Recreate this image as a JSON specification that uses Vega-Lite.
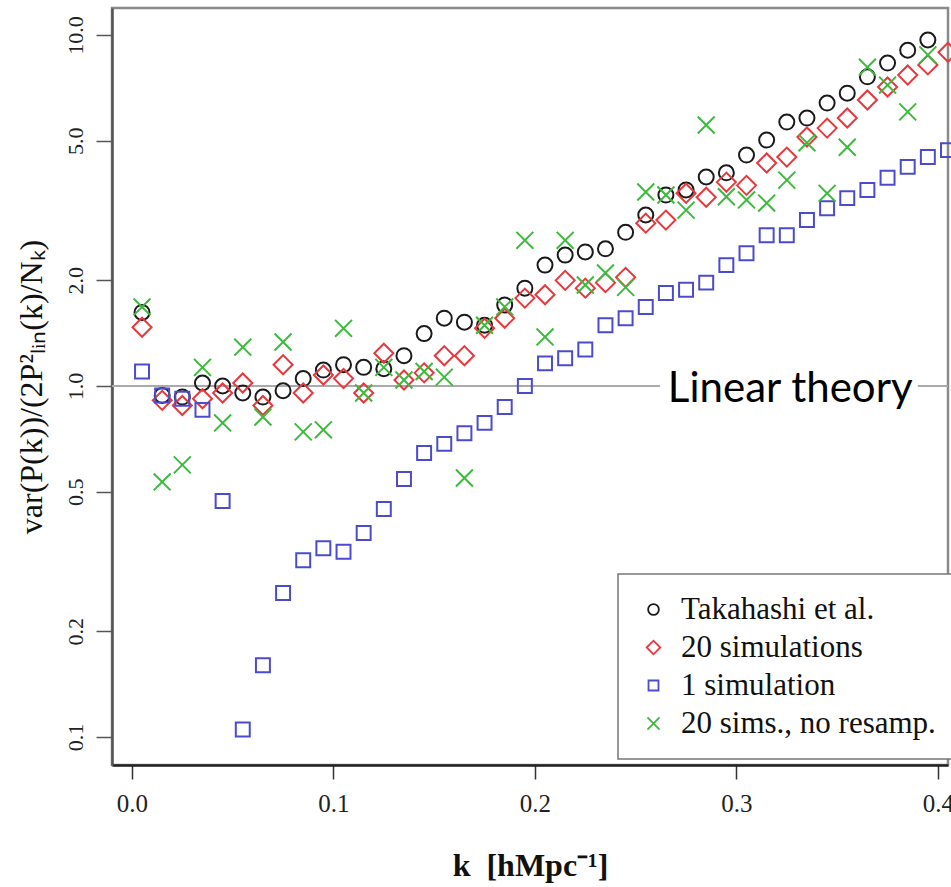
{
  "$schema": "https://vega.github.io/schema/vega-lite/v6.json",
  "width": 836,
  "height": 757,
  "autosize": {"type": "none"},
  "padding": {"left": 112, "top": 8, "right": 3, "bottom": 122},
  "background": "white",
  "config": {
    "font": "Liberation Serif",
    "view": {"stroke": "#8a8a8a", "strokeWidth": 2.5},
    "legend": {"strokeWidth": 1.5}
  },
  "encoding": {
    "x": {
      "field": "k", "type": "quantitative",
      "scale": {"domain": [-0.0099, 0.405], "nice": false, "zero": false},
      "axis": {
        "title": "k\u00a0\u00a0[hMpc⁻¹]", "values": [0, 0.1, 0.2, 0.3, 0.4], "format": ".1f",
        "labelFontSize": 25, "labelPadding": 12, "labelColor": "#222", "labelFlush": false,
        "tickSize": 14, "tickWidth": 1.5, "tickColor": "#333",
        "domainColor": "#222", "domainWidth": 2.5, "grid": false,
        "titleFontSize": 32, "titleFontWeight": "bold", "titleColor": "#111", "titlePadding": 34
      }
    },
    "y": {
      "field": "v", "type": "quantitative",
      "scale": {"type": "log", "domain": [0.0832, 11.94], "nice": false},
      "axis": {
        "title": "var(P(k))/(2P²ₗᵢₙ(k)/Nₖ)", "values": [0.1, 0.2, 0.5, 1, 2, 5, 10], "format": ".1f",
        "labelAngle": -90, "labelAlign": "center", "labelBaseline": "alphabetic",
        "labelFontSize": 22, "labelPadding": 14, "labelColor": "#222",
        "tickSize": 16, "tickWidth": 1.5, "tickColor": "#555",
        "domainColor": "#555", "domainWidth": 2.5, "grid": false,
        "titleFontSize": 32, "titleFontWeight": "normal", "titleColor": "#111", "titlePadding": 16
      }
    }
  },
  "layer": [
    {
      "data": {"values": [{"k": -0.0099, "k2": 0.262, "v": 1}, {"k": 0.39, "k2": 0.405, "v": 1}]},
      "mark": {"type": "rule", "color": "#aaaaaa", "strokeWidth": 2},
      "encoding": {"x2": {"field": "k2"}}
    },
    {
      "data": {"values": [{"k": 0.05}]},
      "mark": {"type": "rule", "color": "#333333", "strokeWidth": 4, "strokeDash": [11, 6]},
      "encoding": {"y": {"datum": 0.0832}, "y2": {"datum": 11.0}}
    },
    {
      "data": {"values": [
        {"k":0.005,"v":1.62,"s":"Takahashi et al."},{"k":0.015,"v":0.94,"s":"Takahashi et al."},{"k":0.025,"v":0.93,"s":"Takahashi et al."},{"k":0.035,"v":1.02,"s":"Takahashi et al."},{"k":0.045,"v":1.0,"s":"Takahashi et al."},{"k":0.055,"v":0.955,"s":"Takahashi et al."},{"k":0.065,"v":0.93,"s":"Takahashi et al."},{"k":0.075,"v":0.97,"s":"Takahashi et al."},{"k":0.085,"v":1.05,"s":"Takahashi et al."},{"k":0.095,"v":1.11,"s":"Takahashi et al."},
        {"k":0.105,"v":1.15,"s":"Takahashi et al."},{"k":0.115,"v":1.13,"s":"Takahashi et al."},{"k":0.125,"v":1.12,"s":"Takahashi et al."},{"k":0.135,"v":1.22,"s":"Takahashi et al."},{"k":0.145,"v":1.41,"s":"Takahashi et al."},{"k":0.155,"v":1.56,"s":"Takahashi et al."},{"k":0.165,"v":1.52,"s":"Takahashi et al."},{"k":0.175,"v":1.49,"s":"Takahashi et al."},{"k":0.185,"v":1.7,"s":"Takahashi et al."},{"k":0.195,"v":1.9,"s":"Takahashi et al."},
        {"k":0.205,"v":2.21,"s":"Takahashi et al."},{"k":0.215,"v":2.36,"s":"Takahashi et al."},{"k":0.225,"v":2.41,"s":"Takahashi et al."},{"k":0.235,"v":2.46,"s":"Takahashi et al."},{"k":0.245,"v":2.74,"s":"Takahashi et al."},{"k":0.255,"v":3.07,"s":"Takahashi et al."},{"k":0.265,"v":3.5,"s":"Takahashi et al."},{"k":0.275,"v":3.62,"s":"Takahashi et al."},{"k":0.285,"v":3.94,"s":"Takahashi et al."},{"k":0.295,"v":4.05,"s":"Takahashi et al."},
        {"k":0.305,"v":4.55,"s":"Takahashi et al."},{"k":0.315,"v":5.02,"s":"Takahashi et al."},{"k":0.325,"v":5.65,"s":"Takahashi et al."},{"k":0.335,"v":5.8,"s":"Takahashi et al."},{"k":0.345,"v":6.4,"s":"Takahashi et al."},{"k":0.355,"v":6.83,"s":"Takahashi et al."},{"k":0.365,"v":7.6,"s":"Takahashi et al."},{"k":0.375,"v":8.32,"s":"Takahashi et al."},{"k":0.385,"v":9.05,"s":"Takahashi et al."},{"k":0.395,"v":9.68,"s":"Takahashi et al."},
        {"k":0.005,"v":1.47,"s":"20 simulations"},{"k":0.015,"v":0.91,"s":"20 simulations"},{"k":0.025,"v":0.88,"s":"20 simulations"},{"k":0.035,"v":0.92,"s":"20 simulations"},{"k":0.045,"v":0.955,"s":"20 simulations"},{"k":0.055,"v":1.02,"s":"20 simulations"},{"k":0.065,"v":0.88,"s":"20 simulations"},{"k":0.075,"v":1.15,"s":"20 simulations"},{"k":0.085,"v":0.955,"s":"20 simulations"},{"k":0.095,"v":1.075,"s":"20 simulations"},
        {"k":0.105,"v":1.05,"s":"20 simulations"},{"k":0.115,"v":0.955,"s":"20 simulations"},{"k":0.125,"v":1.24,"s":"20 simulations"},{"k":0.135,"v":1.04,"s":"20 simulations"},{"k":0.145,"v":1.09,"s":"20 simulations"},{"k":0.155,"v":1.22,"s":"20 simulations"},{"k":0.165,"v":1.22,"s":"20 simulations"},{"k":0.175,"v":1.46,"s":"20 simulations"},{"k":0.185,"v":1.56,"s":"20 simulations"},{"k":0.195,"v":1.78,"s":"20 simulations"},
        {"k":0.205,"v":1.82,"s":"20 simulations"},{"k":0.215,"v":2.0,"s":"20 simulations"},{"k":0.225,"v":1.9,"s":"20 simulations"},{"k":0.235,"v":1.97,"s":"20 simulations"},{"k":0.245,"v":2.04,"s":"20 simulations"},{"k":0.255,"v":2.91,"s":"20 simulations"},{"k":0.265,"v":2.97,"s":"20 simulations"},{"k":0.275,"v":3.54,"s":"20 simulations"},{"k":0.285,"v":3.45,"s":"20 simulations"},{"k":0.295,"v":3.81,"s":"20 simulations"},
        {"k":0.305,"v":3.73,"s":"20 simulations"},{"k":0.315,"v":4.32,"s":"20 simulations"},{"k":0.325,"v":4.49,"s":"20 simulations"},{"k":0.335,"v":5.12,"s":"20 simulations"},{"k":0.345,"v":5.43,"s":"20 simulations"},{"k":0.355,"v":5.8,"s":"20 simulations"},{"k":0.365,"v":6.53,"s":"20 simulations"},{"k":0.375,"v":7.11,"s":"20 simulations"},{"k":0.385,"v":7.69,"s":"20 simulations"},{"k":0.395,"v":8.22,"s":"20 simulations"},{"k":0.405,"v":8.93,"s":"20 simulations"},
        {"k":0.005,"v":1.1,"s":"1 simulation"},{"k":0.015,"v":0.94,"s":"1 simulation"},{"k":0.025,"v":0.92,"s":"1 simulation"},{"k":0.035,"v":0.855,"s":"1 simulation"},{"k":0.045,"v":0.47,"s":"1 simulation"},{"k":0.055,"v":0.105,"s":"1 simulation"},{"k":0.065,"v":0.16,"s":"1 simulation"},{"k":0.075,"v":0.257,"s":"1 simulation"},{"k":0.085,"v":0.319,"s":"1 simulation"},{"k":0.095,"v":0.345,"s":"1 simulation"},
        {"k":0.105,"v":0.337,"s":"1 simulation"},{"k":0.115,"v":0.381,"s":"1 simulation"},{"k":0.125,"v":0.446,"s":"1 simulation"},{"k":0.135,"v":0.543,"s":"1 simulation"},{"k":0.145,"v":0.644,"s":"1 simulation"},{"k":0.155,"v":0.684,"s":"1 simulation"},{"k":0.165,"v":0.733,"s":"1 simulation"},{"k":0.175,"v":0.785,"s":"1 simulation"},{"k":0.185,"v":0.871,"s":"1 simulation"},{"k":0.195,"v":1.0,"s":"1 simulation"},
        {"k":0.205,"v":1.16,"s":"1 simulation"},{"k":0.215,"v":1.2,"s":"1 simulation"},{"k":0.225,"v":1.27,"s":"1 simulation"},{"k":0.235,"v":1.49,"s":"1 simulation"},{"k":0.245,"v":1.56,"s":"1 simulation"},{"k":0.255,"v":1.68,"s":"1 simulation"},{"k":0.265,"v":1.84,"s":"1 simulation"},{"k":0.275,"v":1.88,"s":"1 simulation"},{"k":0.285,"v":1.97,"s":"1 simulation"},{"k":0.295,"v":2.21,"s":"1 simulation"},
        {"k":0.305,"v":2.39,"s":"1 simulation"},{"k":0.315,"v":2.69,"s":"1 simulation"},{"k":0.325,"v":2.69,"s":"1 simulation"},{"k":0.335,"v":2.97,"s":"1 simulation"},{"k":0.345,"v":3.21,"s":"1 simulation"},{"k":0.355,"v":3.43,"s":"1 simulation"},{"k":0.365,"v":3.62,"s":"1 simulation"},{"k":0.375,"v":3.92,"s":"1 simulation"},{"k":0.385,"v":4.21,"s":"1 simulation"},{"k":0.395,"v":4.49,"s":"1 simulation"},{"k":0.405,"v":4.7,"s":"1 simulation"},
        {"k":0.005,"v":1.68,"s":"20 sims., no resamp."},{"k":0.015,"v":0.533,"s":"20 sims., no resamp."},{"k":0.025,"v":0.596,"s":"20 sims., no resamp."},{"k":0.035,"v":1.13,"s":"20 sims., no resamp."},{"k":0.045,"v":0.785,"s":"20 sims., no resamp."},{"k":0.055,"v":1.29,"s":"20 sims., no resamp."},{"k":0.065,"v":0.816,"s":"20 sims., no resamp."},{"k":0.075,"v":1.335,"s":"20 sims., no resamp."},{"k":0.085,"v":0.74,"s":"20 sims., no resamp."},{"k":0.095,"v":0.75,"s":"20 sims., no resamp."},
        {"k":0.105,"v":1.46,"s":"20 sims., no resamp."},{"k":0.115,"v":0.955,"s":"20 sims., no resamp."},{"k":0.125,"v":1.13,"s":"20 sims., no resamp."},{"k":0.135,"v":1.04,"s":"20 sims., no resamp."},{"k":0.145,"v":1.1,"s":"20 sims., no resamp."},{"k":0.155,"v":1.06,"s":"20 sims., no resamp."},{"k":0.165,"v":0.547,"s":"20 sims., no resamp."},{"k":0.175,"v":1.49,"s":"20 sims., no resamp."},{"k":0.185,"v":1.68,"s":"20 sims., no resamp."},{"k":0.195,"v":2.6,"s":"20 sims., no resamp."},
        {"k":0.205,"v":1.38,"s":"20 sims., no resamp."},{"k":0.215,"v":2.6,"s":"20 sims., no resamp."},{"k":0.225,"v":1.94,"s":"20 sims., no resamp."},{"k":0.235,"v":2.1,"s":"20 sims., no resamp."},{"k":0.245,"v":1.91,"s":"20 sims., no resamp."},{"k":0.255,"v":3.57,"s":"20 sims., no resamp."},{"k":0.265,"v":3.5,"s":"20 sims., no resamp."},{"k":0.275,"v":3.17,"s":"20 sims., no resamp."},{"k":0.285,"v":5.54,"s":"20 sims., no resamp."},{"k":0.295,"v":3.46,"s":"20 sims., no resamp."},
        {"k":0.305,"v":3.39,"s":"20 sims., no resamp."},{"k":0.315,"v":3.32,"s":"20 sims., no resamp."},{"k":0.325,"v":3.86,"s":"20 sims., no resamp."},{"k":0.335,"v":4.93,"s":"20 sims., no resamp."},{"k":0.345,"v":3.54,"s":"20 sims., no resamp."},{"k":0.355,"v":4.79,"s":"20 sims., no resamp."},{"k":0.365,"v":8.1,"s":"20 sims., no resamp."},{"k":0.375,"v":7.2,"s":"20 sims., no resamp."},{"k":0.385,"v":6.04,"s":"20 sims., no resamp."},{"k":0.395,"v":8.78,"s":"20 sims., no resamp."}
      ]},
      "mark": {"type": "point", "filled": false, "strokeWidth": 2, "opacity": 1, "size": 225},
      "encoding": {
        "color": {
          "field": "s", "type": "nominal",
          "scale": {"domain": ["Takahashi et al.", "20 simulations", "1 simulation", "20 sims., no resamp."], "range": ["#1a1a1a", "#e8383d", "#4b4bd0", "#3cba3c"]},
          "legend": {
            "orient": "none", "legendX": 506, "legendY": 566, "title": null,
            "labelFontSize": 31, "labelFont": "Liberation Serif", "labelColor": "#111", "labelLimit": 600,
            "symbolSize": 115, "symbolStrokeWidth": 1.8,
            "padding": 20, "rowPadding": 6, "labelOffset": 12,
            "strokeColor": "#777", "fillColor": "white", "cornerRadius": 0
          }
        },
        "shape": {
          "field": "s", "type": "nominal",
          "scale": {"domain": ["Takahashi et al.", "20 simulations", "1 simulation", "20 sims., no resamp."], "range": ["circle", "M-1.27,0L0,-1.27L1.27,0L0,1.27Z", "M-0.93,-0.93L0.93,-0.93L0.93,0.93L-0.93,0.93Z", "M-1.13,-1.13L1.13,1.13M-1.13,1.13L1.13,-1.13"]}
        }
      }
    },
    {
      "data": {"values": [{"k": 0.3267, "v": 0.9, "t": "Linear theory"}]},
      "mark": {"type": "text", "font": "Lato", "fontSize": 42, "align": "center", "baseline": "alphabetic", "color": "#000"},
      "encoding": {"text": {"field": "t"}}
    }
  ]
}
